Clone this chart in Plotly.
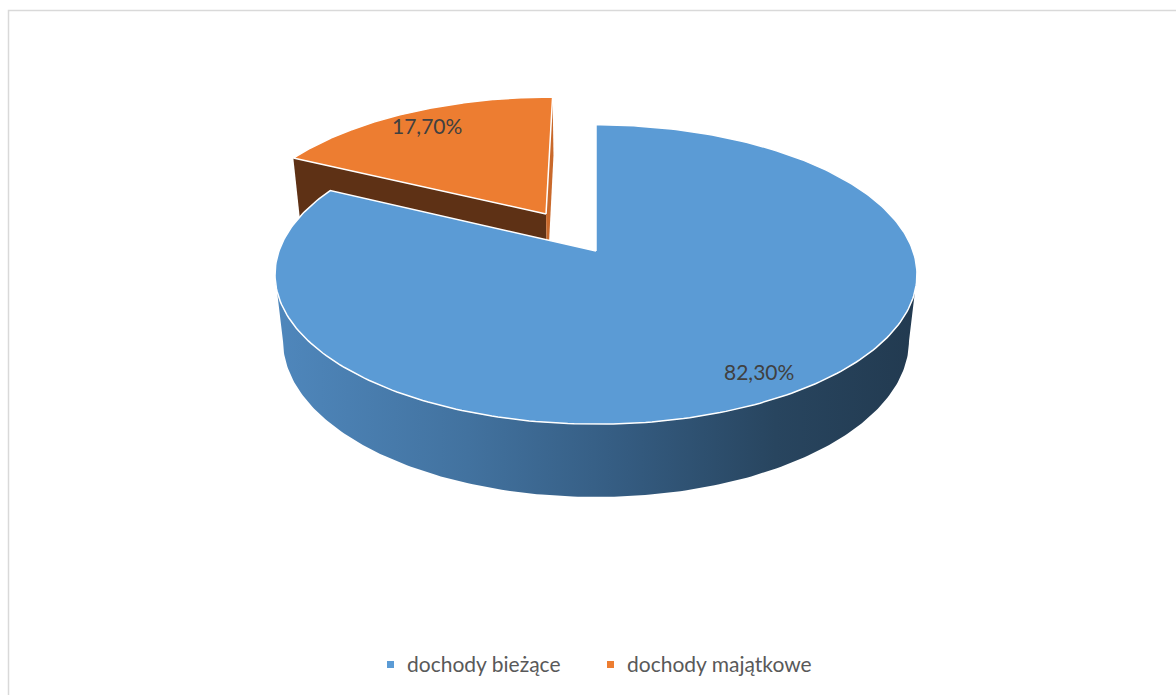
import numpy as np
import plotly.graph_objects as go

# ---- data -------------------------------------------------------------
categories = ["dochody bieżące", "dochody majątkowe"]
shares = [82.30, 17.70]          # percent of total income

top_colors = ["#5B9BD5", "#ED7D31"]
side_colors = ["#41709C", "#5E3115"]
edge_colors = ["#2F5373", "#C9692B"]
side_gradient = [[0.0, "#4F87BC"], [0.3, "#42729F"], [0.55, "#345B80"],
                 [0.78, "#28455F"], [1.0, "#223A50"]]

# ---- 3-D pie geometry (perspective projection of a short cylinder) ----
CX, CY = 596.0, 251.0      # projected centre of the top disc
A, B = 317.0, 146.0        # horizontal / vertical radius scale
K, M = 0.157, 0.025        # perspective foreshortening (depth, height)
H = 67.5                   # thickness of the pie
EXPLODE = [0.0, 0.311]     # radial pull-out of each slice
LABEL_R = 0.86

W_PX, H_PX = 1176, 695

# legend layout (pixels)
LEG_Y = 664.5
LEG_SWATCH_X = [390.5, 610.5]
LEG_TEXT_GAP = 14.5


def project(X, W, Yd):
    """X: right, W: towards the back, Yd: 0 on the top face, 1 at the base."""
    X, W, Yd = np.asarray(X, float), np.asarray(W, float), np.asarray(Yd, float)
    d = 1.0 + K * W + M * Yd
    return CX + A * X / d, CY - (B * W - H * Yd) / d


def fmt(v):
    return f"{v:.2f}%".replace(".", ",")


fracs = np.array(shares) / sum(shares)
ends = np.cumsum(fracs) * 2 * np.pi
starts = ends - fracs * 2 * np.pi

fig = go.Figure()


def add_poly(xs, ys, color, line_color=None, width=0, gradient=None):
    kw = dict(x=list(xs) + [xs[0]], y=list(ys) + [ys[0]], mode="lines",
              fill="toself", fillcolor=color, hoverinfo="skip", showlegend=False,
              line=dict(color=line_color or color, width=width))
    if gradient is not None:
        kw["fillgradient"] = dict(type="horizontal", colorscale=gradient)
    fig.add_trace(go.Scatter(**kw))


# back slices first
order = sorted(range(len(shares)),
               key=lambda i: -np.cos((starts[i] + ends[i]) / 2))

theta_vis = np.arccos(-K)          # edge of the visible part of the rim
label_pos = {}

for i in order:
    s, e = starts[i], ends[i]
    mid = (s + e) / 2
    ox, ow = EXPLODE[i] * np.sin(mid), EXPLODE[i] * np.cos(mid)

    def rim(t, yd):
        return project(ox + np.sin(t), ow + np.cos(t), yd)

    apex_top = project(ox, ow, 0)
    apex_bot = project(ox, ow, 1)

    # radial cut faces (only shown when the slice is pulled out)
    if EXPLODE[i] > 0:
        for t, col in ((s, side_colors[i]), (e, edge_colors[i])):
            rt, rb = rim(t, 0), rim(t, 1)
            add_poly([apex_top[0], rt[0], rb[0], apex_bot[0]],
                     [apex_top[1], rt[1], rb[1], apex_bot[1]], col)

    # curved outer wall
    lo, hi = max(s, theta_vis), min(e, 2 * np.pi - theta_vis)
    if lo < hi:
        t = np.linspace(lo, hi, 200)
        xt, yt = rim(t, 0)
        xb, yb = rim(t[::-1], 1)
        add_poly(np.r_[xt, xb], np.r_[yt, yb], side_colors[i],
                 gradient=side_gradient if i == 0 else None)

    # top face
    t = np.linspace(s, e, 300)
    xt, yt = rim(t, 0)
    add_poly(np.r_[apex_top[0], xt], np.r_[apex_top[1], yt], top_colors[i],
             line_color="white", width=1.5)

    lx, ly = project(ox + LABEL_R * np.sin(mid), ow + LABEL_R * np.cos(mid), 0)
    label_pos[i] = (float(lx), float(ly))

for i, name in enumerate(categories):
    lx, ly = label_pos[i]
    fig.add_annotation(x=lx, y=ly, text=fmt(shares[i]), showarrow=False,
                       font=dict(family="Lato", size=21, color="#404040"))

# legend: colour swatches with category names
fig.add_trace(go.Scatter(x=LEG_SWATCH_X, y=[LEG_Y] * len(categories),
                         mode="markers", hoverinfo="skip", showlegend=False,
                         marker=dict(symbol="square", size=7,
                                     color=top_colors, line=dict(width=0))))
for i, name in enumerate(categories):
    fig.add_annotation(x=LEG_SWATCH_X[i] + LEG_TEXT_GAP, y=LEG_Y - 1,
                       text=name, showarrow=False, xanchor="left",
                       yanchor="middle",
                       font=dict(family="Lato", size=21, color="#595959"))

# chart frame
fig.add_shape(type="rect", x0=8.5, y0=10.5, x1=W_PX + 20, y1=H_PX + 20,
              line=dict(color="#D9D9D9", width=1.5), layer="above")

fig.update_layout(
    width=W_PX, height=H_PX,
    margin=dict(l=0, r=0, t=0, b=0),
    paper_bgcolor="white", plot_bgcolor="white",
    xaxis=dict(range=[0, W_PX], visible=False, fixedrange=True),
    yaxis=dict(range=[H_PX, 0], visible=False, fixedrange=True),
    showlegend=False,
)

fig.write_html("out.html")
